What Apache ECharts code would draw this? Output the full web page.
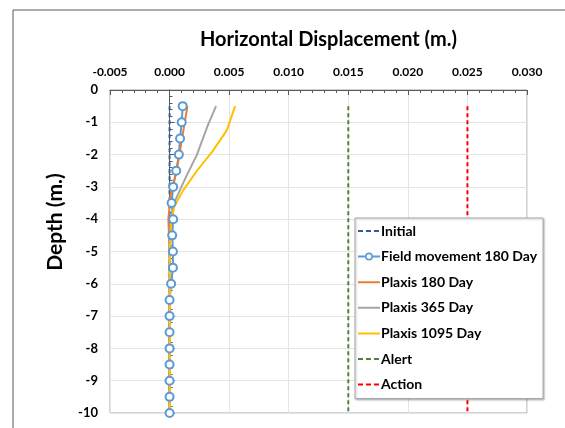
<!DOCTYPE html>
<html>
<head>
<meta charset="utf-8">
<script src="https://cdn.jsdelivr.net/npm/echarts@6/dist/echarts.min.js"></script>
<style>
  html, body { margin: 0; padding: 0; background: #fff; }
  #chart { width: 565px; height: 428px; }
</style>
</head>
<body>
<div id="chart"></div>
<script>
// depth (m.) for field readings and initial
const depths = [-0.5, -1, -1.5, -2, -2.5, -3, -3.5, -4, -4.5, -5, -5.5, -6, -6.5, -7, -7.5, -8, -8.5, -9, -9.5, -10]
const initialX = [0, 0, 0, 0, 0, 0, 0, 0, 0, 0, 0, 0, 0, 0, 0, 0, 0, 0, 0, 0]
const fieldX = [0.0011, 0.00102, 0.00088, 0.00078, 0.00056, 0.0003, 0.00017, 0.0003, 0.00022, 0.00028, 0.00028, 0.00013, 0, 0, 0, 0, 0, 0, 0, 0]

// plaxis curves
const plaxis180Depth = [-0.5, -1.5, -2.5, -3.2, -4, -5, -10]
const plaxis180X = [0.0015, 0.00105, 0.0006, 0.0001, -0.0001, 0, 0]
const plaxis365Depth = [-0.5, -1.1, -2, -2.75, -3.4, -4, -4.5, -10]
const plaxis365X = [0.0039, 0.0032, 0.0023, 0.0013, 0.0005, 0.0001, 0, 0]
const plaxis1095Depth = [-0.5, -1.25, -1.9, -2.5, -3.1, -3.6, -4.1, -5, -10]
const plaxis1095X = [0.0055, 0.0048, 0.0036, 0.0023, 0.00115, 0.0004, 0.00014, 0.00003, 0.00003]

// limits
const limitDepth = [-0.5, -10]
const alertX = [0.015, 0.015]
const actionX = [0.025, 0.025]

const pairs = (xs, ys) => xs.map((x, i) => [x, ys[i]])

// legend icons (22 x 8 box, tiny corner dots keep the box size)
const box = 'M0,0h0.01v0.01h-0.01z M22,8h0.01v0.01h-0.01z '
const iconSolid = 'path://' + box + 'M0,3h22v2h-22z'
const iconDash = 'path://' + box + 'M0,3h5v2h-5z M8,3h5v2h-5z M16,3h5v2h-5z'
const iconMarker = 'path://' + box + 'M0,3h7v2h-7z M15,3h7v2h-7z M7,4a4,4 0 1,0 8,0a4,4 0 1,0 -8,0z M8.6,4a2.4,2.4 0 1,1 4.8,0a2.4,2.4 0 1,1 -4.8,0z'

const font = 'Lato'
const myChart = echarts.init(document.getElementById('chart'))

const option = {
  animation: false,
  title: {
    text: 'Horizontal Displacement (m.)',
    left: 195,
    top: 25,
    textStyle: { fontFamily: font, fontSize: 20, fontWeight: 'bold', color: '#000' }
  },
  graphic: [
    {
      type: 'line',
      shape: { x1: 13, y1: 10, x2: 565, y2: 10 },
      style: { stroke: '#595959', lineWidth: 1 }
    },
    {
      type: 'line',
      shape: { x1: 13, y1: 10, x2: 13, y2: 428 },
      style: { stroke: '#595959', lineWidth: 1 }
    },
    {
      type: 'text',
      x: 55,
      y: 222,
      rotation: Math.PI / 2,
      style: {
        text: 'Depth (m.)',
        fontFamily: font,
        fontSize: 21,
        fontWeight: 'bold',
        fill: '#000',
        align: 'center',
        verticalAlign: 'middle'
      }
    }
  ],
  grid: {
    left: 110,
    top: 90,
    width: 417,
    height: 323,
    show: true,
    borderColor: '#a6a6a6',
    borderWidth: 1
  },
  legend: {
    orient: 'vertical',
    left: 355,
    top: 218,
    padding: [6, 6, 7, 3],
    itemGap: 11.6,
    itemWidth: 22,
    itemHeight: 8,
    backgroundColor: '#fff',
    borderColor: '#a6a6a6',
    borderWidth: 1,
    shadowColor: 'rgba(0,0,0,0.25)',
    shadowBlur: 2,
    shadowOffsetX: 1,
    shadowOffsetY: 1,
    textStyle: { fontFamily: font, fontSize: 14, fontWeight: 'bold', color: '#000', padding: [0, 0, 0, -4] },
    data: [
      { name: 'Initial', icon: iconDash },
      { name: 'Field movement 180 Day', icon: iconMarker },
      { name: 'Plaxis 180 Day', icon: iconSolid },
      { name: 'Plaxis 365 Day', icon: iconSolid },
      { name: 'Plaxis 1095 Day', icon: iconSolid },
      { name: 'Alert', icon: iconDash },
      { name: 'Action', icon: iconDash }
    ]
  },
  xAxis: {
    type: 'value',
    position: 'top',
    min: -0.005,
    max: 0.03,
    interval: 0.005,
    axisLine: { show: true, lineStyle: { color: '#595959' } },
    axisTick: { show: true, inside: true, length: 5, lineStyle: { color: '#595959' } },
    minorTick: { show: true, splitNumber: 5, length: 3, lineStyle: { color: '#595959' } },
    splitLine: { show: true, lineStyle: { color: '#e4e4e4' } },
    axisLabel: {
      margin: 12,
      fontFamily: font,
      fontSize: 12,
      fontWeight: 'bold',
      color: '#000',
      formatter: v => v.toFixed(3)
    }
  },
  yAxis: {
    type: 'value',
    min: -10,
    max: 0,
    interval: 1,
    axisLine: { show: true, lineStyle: { color: '#595959' } },
    axisTick: { show: true, inside: true, length: 5, lineStyle: { color: '#595959' } },
    minorTick: { show: true, splitNumber: 5, length: 3, lineStyle: { color: '#595959' } },
    splitLine: { show: true, lineStyle: { color: '#e4e4e4' } },
    axisLabel: {
      margin: 12,
      fontFamily: font,
      fontSize: 13,
      fontWeight: 'bold',
      color: '#000'
    }
  },
  series: [
    {
      name: 'Initial',
      type: 'line',
      symbol: 'none',
      itemStyle: { color: '#2e5f9a' },
      lineStyle: { width: 2, type: [4, 3], color: '#2e5f9a' },
      data: pairs(initialX, depths)
    },
    {
      name: 'Field movement 180 Day',
      type: 'line',
      symbol: 'emptyCircle',
      symbolSize: 8,
      showAllSymbol: true,
      itemStyle: { color: '#5b9bd5', borderWidth: 2 },
      lineStyle: { width: 2, color: '#5b9bd5' },
      data: pairs(fieldX, depths)
    },
    {
      name: 'Plaxis 180 Day',
      type: 'line',
      symbol: 'none',
      itemStyle: { color: '#ed7d31' },
      lineStyle: { width: 2, color: '#ed7d31' },
      data: pairs(plaxis180X, plaxis180Depth)
    },
    {
      name: 'Plaxis 365 Day',
      type: 'line',
      symbol: 'none',
      itemStyle: { color: '#a5a5a5' },
      lineStyle: { width: 2, color: '#a5a5a5' },
      data: pairs(plaxis365X, plaxis365Depth)
    },
    {
      name: 'Plaxis 1095 Day',
      type: 'line',
      symbol: 'none',
      itemStyle: { color: '#ffc000' },
      lineStyle: { width: 2, color: '#ffc000' },
      data: pairs(plaxis1095X, plaxis1095Depth)
    },
    {
      name: 'Alert',
      type: 'line',
      symbol: 'none',
      itemStyle: { color: '#548235' },
      lineStyle: { width: 2, type: [4, 3], color: '#548235' },
      data: pairs(alertX, limitDepth)
    },
    {
      name: 'Action',
      type: 'line',
      symbol: 'none',
      itemStyle: { color: '#ff0000' },
      lineStyle: { width: 2, type: [4, 3], color: '#ff0000' },
      data: pairs(actionX, limitDepth)
    }
  ]
}
myChart.setOption(option)
</script>
</body>
</html>
